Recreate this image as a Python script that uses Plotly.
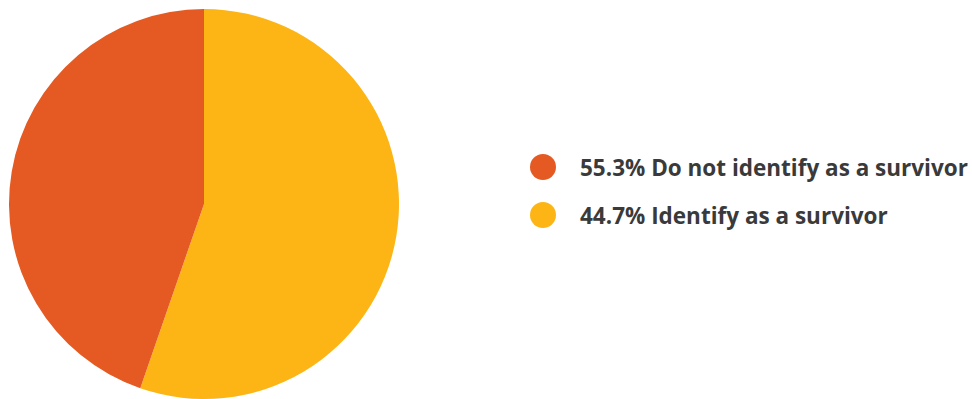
import plotly.graph_objects as go

# Survey breakdown
categories = ["Do not identify as a survivor", "Identify as a survivor"]
shares = [55.3, 44.7]

# Slice fills (in drawing order) and legend dot colours
slice_colors = ["#FDB515", "#E55A22"]
legend_colors = ["#E55A22", "#FDB515"]

W, H = 972, 399

fig = go.Figure(
    go.Pie(
        labels=categories,
        values=shares,
        sort=False,
        direction="clockwise",
        rotation=0,
        marker=dict(colors=slice_colors, line=dict(width=0)),
        textinfo="none",
        hovertemplate="%{label}: %{value}%<extra></extra>",
        showlegend=False,
        domain=dict(x=[9 / W, 399 / W], y=[0, 1 - 9 / H]),
    )
)

# Custom legend: coloured dots with bold labels
dot_x = 543
dot_r = 13
row_y = [167, 215]
shapes = []
annotations = []
for share, label, color, y in zip(shares, categories, legend_colors, row_y):
    shapes.append(
        dict(
            type="circle",
            xref="paper", yref="paper",
            x0=(dot_x - dot_r) / W, x1=(dot_x + dot_r) / W,
            y0=1 - (y + dot_r) / H, y1=1 - (y - dot_r) / H,
            fillcolor=color, line=dict(width=0),
        )
    )
    annotations.append(
        dict(
            xref="paper", yref="paper",
            x=578 / W, y=1 - y / H,
            xanchor="left", yanchor="middle",
            text=f"<b>{share}% {label}</b>",
            showarrow=False,
            font=dict(family="Open Sans, sans-serif", size=22.5, color="#3A3A3A"),
        )
    )

fig.update_layout(
    width=W, height=H,
    margin=dict(l=0, r=0, t=0, b=0),
    paper_bgcolor="white",
    plot_bgcolor="white",
    shapes=shapes,
    annotations=annotations,
)

fig.write_html("out.html")
